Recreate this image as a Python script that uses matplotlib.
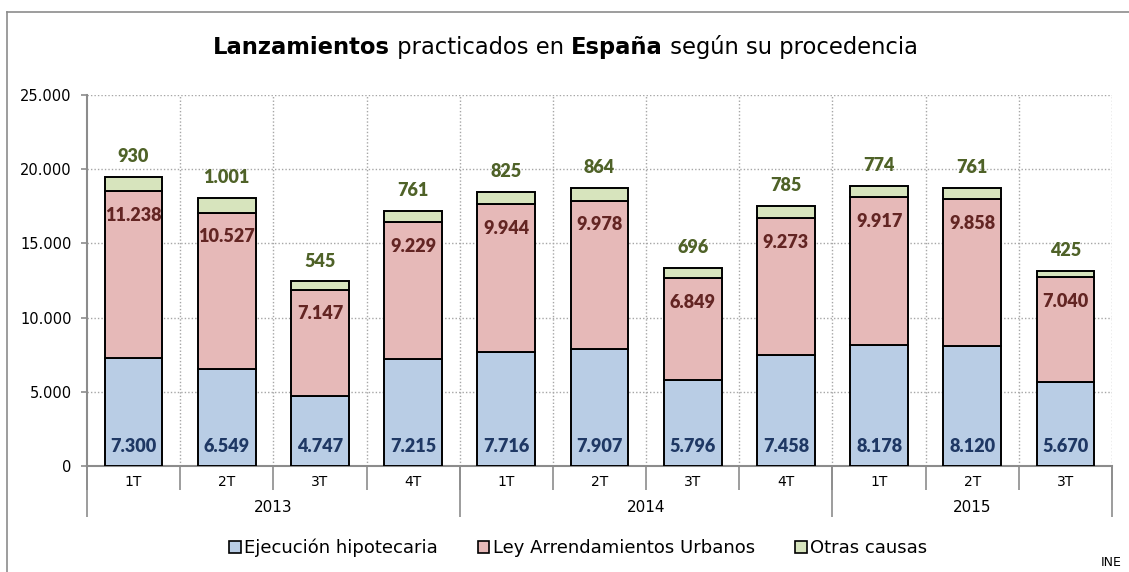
import matplotlib
matplotlib.use("Agg")
import matplotlib.pyplot as plt
from matplotlib.lines import Line2D
from matplotlib.patches import Patch
import numpy as np

# Data (INE)
quarters = ["1T", "2T", "3T", "4T", "1T", "2T", "3T", "4T", "1T", "2T", "3T"]
years = ["2013", "2014", "2015"]
year_starts = [0, 4, 8]
year_ends = [3, 7, 10]
hipotecaria = [7300, 6549, 4747, 7215, 7716, 7907, 5796, 7458, 8178, 8120, 5670]
arrendamientos = [11238, 10527, 7147, 9229, 9944, 9978, 6849, 9273, 9917, 9858, 7040]
otras = [930, 1001, 545, 761, 825, 864, 696, 785, 774, 761, 425]

c_blue, c_red, c_green = "#B9CDE5", "#E6B9B8", "#D7E4BD"
t_blue, t_red, t_green = "#1F3864", "#632523", "#4F6228"
grey = "#8C8C8C"

plt.rcParams["font.family"] = ["DejaVu Sans"]

fig = plt.figure(figsize=(11.29, 5.72), dpi=100)
ax = fig.add_axes([0.077, 0.185, 0.908, 0.649])

x = np.arange(len(quarters))
w = 0.62
b1 = np.array(hipotecaria)
b2 = np.array(arrendamientos)
b3 = np.array(otras)

ax.bar(x, b1, w, color=c_blue, edgecolor="black", linewidth=1.4, zorder=3)
ax.bar(x, b2, w, bottom=b1, color=c_red, edgecolor="black", linewidth=1.4, zorder=3)
ax.bar(x, b3, w, bottom=b1 + b2, color=c_green, edgecolor="black", linewidth=1.4, zorder=3)

def fmt(v):
    return f"{v:,}".replace(",", ".")

lab = dict(ha="center", va="center", fontsize=13, fontweight="heavy", family="Lato", zorder=5)
for i in range(len(x)):
    ax.annotate(fmt(b1[i]), (x[i], 0), xytext=(0, 14.5), textcoords="offset points",
                color=t_blue, **lab)
    ax.annotate(fmt(b2[i]), (x[i], b1[i] + b2[i]), xytext=(0, -17.5), textcoords="offset points",
                color=t_red, **lab)
    ax.annotate(fmt(b3[i]), (x[i], b1[i] + b2[i] + b3[i]), xytext=(0, 14.5), textcoords="offset points",
                color=t_green, **lab)

ax.set_xlim(-0.5, len(x) - 0.5)
ax.set_ylim(0, 25000)
ax.set_yticks(np.arange(0, 25001, 5000))
ax.set_yticklabels([fmt(v) for v in range(0, 25001, 5000)], fontsize=10.5)
ax.tick_params(axis="y", length=4, color=grey, width=1.2, pad=7)

# gridlines
for yv in range(5000, 25001, 5000):
    ax.axhline(yv, color="#A6A6A6", linestyle=(0, (1, 1.5)), linewidth=1, zorder=1)
for xv in np.arange(0.5, len(x), 1.0):
    ax.axvline(xv, color="#A6A6A6", linestyle=(0, (1, 1.5)), linewidth=1, zorder=1)

for s in ["top", "right"]:
    ax.spines[s].set_visible(False)
for s in ["left", "bottom"]:
    ax.spines[s].set_color(grey)
    ax.spines[s].set_linewidth(1.5)

# multilevel category axis
ax.set_xticks(np.arange(-0.5, len(x), 1.0))
ax.set_xticklabels([])
ax.tick_params(axis="x", which="major", length=17, width=1.2, color=grey)
ax.set_xticks(x, minor=True)
ax.set_xticklabels(quarters, minor=True, fontsize=10)
ax.tick_params(axis="x", which="minor", length=0, pad=6)

sec = ax.secondary_xaxis("bottom")
sec.set_xticks([s - 0.5 for s in year_starts] + [year_ends[-1] + 0.5])
sec.set_xticklabels([])
sec.tick_params(axis="x", which="major", length=37, width=1.2, color=grey)
sec.set_xticks([(s + e) / 2 for s, e in zip(year_starts, year_ends)], minor=True)
sec.set_xticklabels(years, minor=True, fontsize=11)
sec.tick_params(axis="x", which="minor", length=0, pad=24)
sec.spines["bottom"].set_visible(False)

# title with bold / normal pieces
parts = [("Lanzamientos", "bold"), (" practicados en ", "normal"), ("España", "bold"),
         (" según su procedencia", "normal")]
fig.canvas.draw()
r = fig.canvas.get_renderer()
texts = []
for s, wgt in parts:
    texts.append(fig.text(0, 0, s, fontsize=16.3, fontweight=wgt, va="baseline"))
widths = [t.get_window_extent(r).width for t in texts]
total = sum(widths)
xpos = 565 - total / 2
for t, wd in zip(texts, widths):
    t.set_position((xpos / 1129, 1 - 54 / 572))
    xpos += wd

# legend
handles = [Patch(facecolor=c_blue, edgecolor="black", linewidth=1.2),
           Patch(facecolor=c_red, edgecolor="black", linewidth=1.2),
           Patch(facecolor=c_green, edgecolor="black", linewidth=1.2)]
fig.legend(handles, ["Ejecución hipotecaria", "Ley Arrendamientos Urbanos", "Otras causas"],
           loc="center", bbox_to_anchor=(0.512, 1 - 548 / 572), ncol=3, frameon=False,
           fontsize=13, handlelength=0.65, handleheight=0.65, handletextpad=0.2,
           columnspacing=2.2)

fig.text(1122 / 1129, 1 - 562 / 572, "INE", fontsize=9, ha="right", va="center")

# frame of the chart area (top and left only visible)
fig.add_artist(Line2D([7 / 1129, 7 / 1129], [0, 1 - 12 / 572], transform=fig.transFigure,
                      color=grey, linewidth=1.2))
fig.add_artist(Line2D([7 / 1129, 1], [1 - 12 / 572, 1 - 12 / 572], transform=fig.transFigure,
                      color=grey, linewidth=1.2))

fig.savefig("out.png", dpi=100)
